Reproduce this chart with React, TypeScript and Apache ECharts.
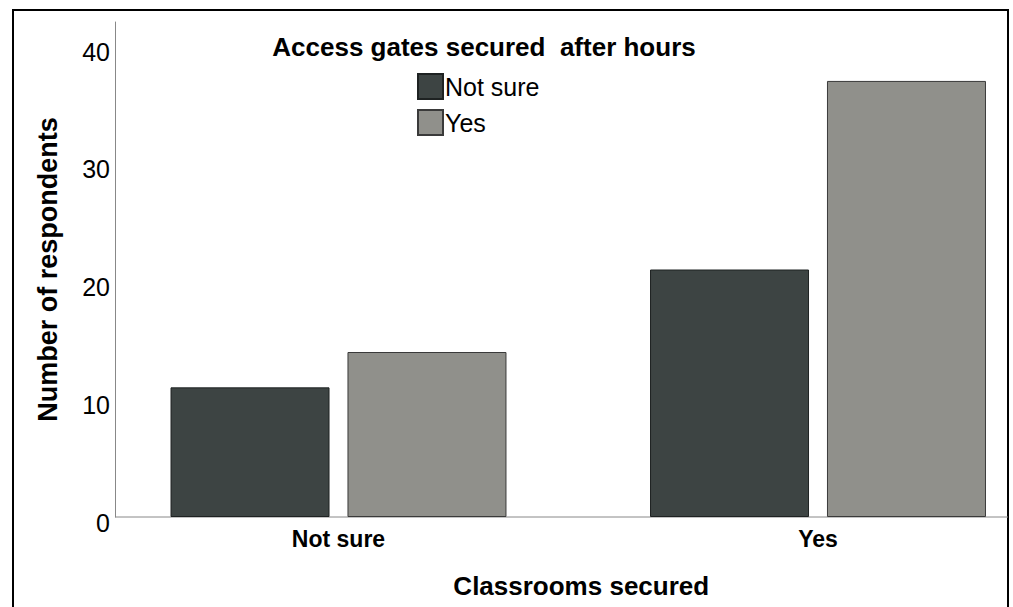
import React, { useEffect, useRef } from "react";
import * as echarts from "echarts";

const categories = ["Not sure", "Yes"];
const seriesNames = ["Not sure", "Yes"];
const notSureValues = [11, 21];
const yesValues = [14, 37];
const yMin = 0;
const yMax = 42;
const yInterval = 10;

const FONT = "'Liberation Sans', Arial, sans-serif";

export default function App() {
  const ref = useRef<HTMLDivElement>(null);
  useEffect(() => {
    if (!ref.current) return;
    const chart = echarts.init(ref.current, undefined, { renderer: "svg" });
    chart.setOption({
      animation: false,
      backgroundColor: "#ffffff",
      textStyle: { fontFamily: FONT },
      grid: { left: 98.75, top: 22, width: 959, height: 495, containLabel: false },
      legend: {
        orient: "vertical",
        left: 417,
        top: 73,
        padding: 0,
        itemWidth: 25,
        itemHeight: 25,
        itemGap: 9,
        icon: "rect",
        data: seriesNames,
        textStyle: { fontSize: 25, color: "#000", fontFamily: FONT, padding: [0, 0, 0, -3] },
      },
      xAxis: {
        type: "category",
        data: categories,
        axisLine: { show: false },
        axisTick: { show: false },
        axisLabel: { fontSize: 23, fontWeight: "bold", color: "#000", margin: 10, fontFamily: FONT },
        name: "Classrooms secured",
        nameLocation: "middle",
        nameGap: 56,
        nameTextStyle: { fontSize: 26, fontWeight: "bold", color: "#000", fontFamily: FONT, padding: [0, 0, 0, 6] },
      },
      yAxis: {
        type: "value",
        min: yMin,
        max: yMax,
        interval: yInterval,
        offset: -16.25,
        splitLine: { show: false },
        axisTick: { show: false },
        axisLine: { show: true, lineStyle: { color: "#888", width: 1 } },
        axisLabel: {
          color: "#000",
          margin: 5,
          showMaxLabel: false,
          fontFamily: FONT,
          fontSize: 25,
          formatter: (v: number) => `{a|${v}}`,
          rich: { a: { fontSize: 25, fontFamily: FONT, color: "#000", padding: [12, 0, 0, 0] } },
        },
        name: "Number of respondents",
        nameLocation: "middle",
        nameGap: 54,
        nameTextStyle: { fontSize: 27, fontWeight: "bold", color: "#000", fontFamily: FONT },
      },
      series: [
        {
          name: seriesNames[0],
          type: "bar",
          data: notSureValues,
          barWidth: 159,
          barGap: "11.3%",
          itemStyle: { color: "#3d4443", borderColor: "#1e2222", borderWidth: 1 },
        },
        {
          name: seriesNames[1],
          type: "bar",
          data: yesValues,
          barWidth: 159,
          barGap: "11.3%",
          itemStyle: { color: "#90908b", borderColor: "#3a3a3a", borderWidth: 1 },
        },
      ],
      graphic: [
        {
          type: "line",
          z: 1,
          shape: { x1: 115, y1: 517, x2: 1008, y2: 517 },
          style: { stroke: "#888", lineWidth: 1 },
        },
        {
          type: "text",
          x: 484,
          y: 47,
          style: {
            text: "Access gates secured  after hours",
            fontSize: 26,
            fontWeight: "bold",
            fontFamily: FONT,
            fill: "#000",
            align: "center",
            verticalAlign: "middle",
          },
        },
        {
          type: "rect",
          shape: { x: 13, y: 10, width: 995, height: 620 },
          style: { fill: "none", stroke: "#000", lineWidth: 2 },
        },
      ],
    });
    return () => chart.dispose();
  }, []);
  return (
    <div style={{ position: "fixed", left: 0, top: 0, width: 1013, height: 607, overflow: "hidden", background: "#fff" }}>
      <div ref={ref} style={{ width: 1100, height: 607 }} />
    </div>
  );
}
